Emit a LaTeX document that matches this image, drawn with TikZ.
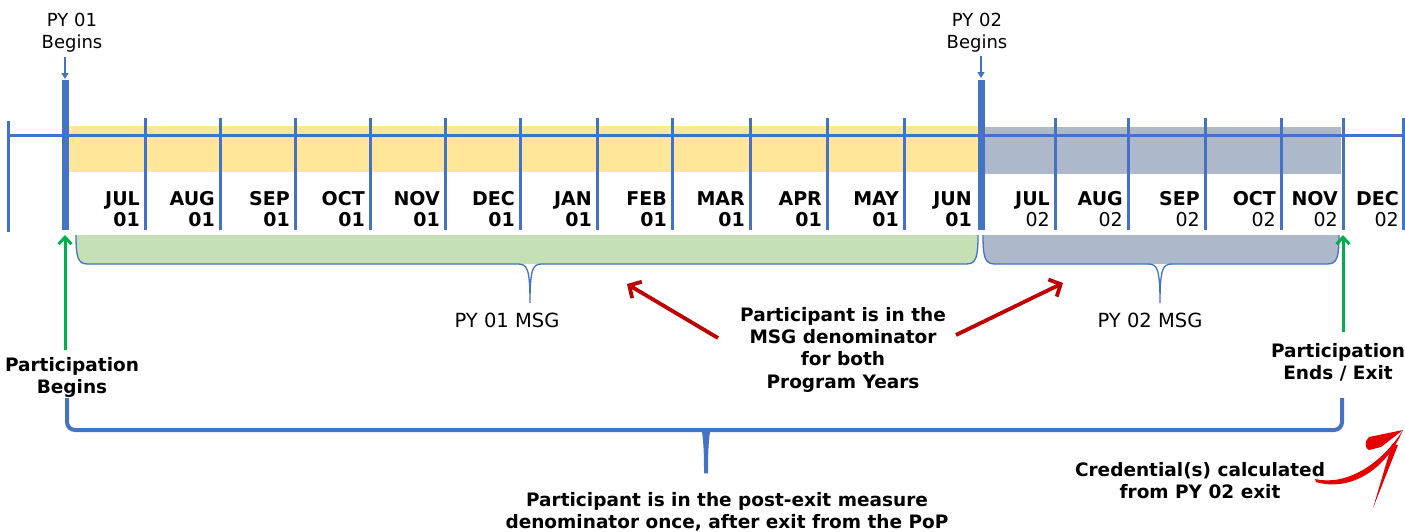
\documentclass[tikz,border=0pt]{standalone}
\usepackage{fontspec}
\setmainfont{DejaVu Sans}
\usetikzlibrary{arrows.meta}
\definecolor{bl}{HTML}{4472C4}
\definecolor{yel}{HTML}{FFE699}
\definecolor{gry}{HTML}{ADB9CA}
\definecolor{grn}{HTML}{C5E0B4}
\definecolor{garrow}{HTML}{00B050}
\definecolor{darkred}{HTML}{C00000}
\definecolor{brush}{HTML}{E60000}
\begin{document}
\begin{tikzpicture}[x=1pt,y=-1pt,
  tick/.style={draw=bl,line width=3pt},
  thickbar/.style={draw=bl,line width=7pt},
  mon/.style={font=\fontsize{19}{22}\selectfont\bfseries,inner sep=0pt,anchor=base east},
  yrr/.style={font=\fontsize{19}{22}\selectfont,inner sep=0pt,anchor=base east},
  lbl/.style={font=\fontsize{18.5}{22}\selectfont\bfseries,inner sep=0pt,anchor=base},
  reg/.style={font=\fontsize{18}{22}\selectfont,inner sep=0pt,anchor=base},
  msg/.style={font=\fontsize{19.5}{22}\selectfont,inner sep=0pt,anchor=base},
  bracestroke/.style={draw=bl,line width=1.3pt},
  garr/.style={draw=garrow,line width=3pt,-{Straight Barb[length=7pt,width=13pt]}},
  rarr/.style={draw=darkred,line width=3.8pt,-{Straight Barb[length=9pt,width=19pt]}},
  barr/.style={draw=bl,line width=1.3pt,-{Triangle[length=6pt,width=7pt]}},
]
\useasboundingbox (0,0) rectangle (1405,531);
% bands
\fill[yel] (69,126) rectangle (978,172);
\fill[gry] (984,127) rectangle (1341,174);
% main line
\draw[bl,line width=3pt] (8,135) -- (1405,135);
\draw[tick] (8,121) -- (8,232);
% ticks
\foreach \x in {145,220,295,370,445,520,597,672,750,827,904,1055,1128,1205,1281,1343,1403.5}
  \draw[tick] (\x,118) -- (\x,230);
\draw[thickbar] (65,80) -- (65,230);
\draw[thickbar] (981,80) -- (981,230);
% month labels PY01
\foreach \x/\m [count=\i] in {145/JUL,220/AUG,295/SEP,370/OCT,445/NOV,520/DEC,597/JAN,672/FEB,750/MAR,827/APR,904/MAY,977/JUN} {
  \node[mon] (ma\i) at (\x-5,205) {\m};
  \node[mon] (ya\i) at (\x-5,226) {01};
}
% month labels PY02
\foreach \x/\m [count=\i] in {1055/JUL,1128/AUG,1205/SEP,1281/OCT,1343/NOV,1404/DEC} {
  \node[mon] (mb\i) at (\x-5,205) {\m};
  \node[yrr] (yb\i) at (\x-5,226) {02};
}
% top labels
\node[reg] (py1a) at (72,26) {PY 01};
\node[reg] (py1b) at (72,48) {Begins};
\node[reg] (py2a) at (977,26) {PY 02};
\node[reg] (py2b) at (977,48) {Begins};
\coordinate (b1s) at (65,57); \coordinate (b1e) at (65,79);
\coordinate (b2s) at (981,56); \coordinate (b2e) at (981,78);
\draw[barr] (b1s) -- (b1e);
\draw[barr] (b2s) -- (b2e);
% green brace
\fill[grn] (76,235) .. controls (76,258) and (78,264) .. (88,264) -- (966,264) .. controls (976,264) and (978,258) .. (978,235) -- cycle;
\draw[bracestroke] (76,235) .. controls (76,258) and (78,264) .. (88,264) -- (518,264) .. controls (527,264) and (530,268) .. (530,303) .. controls (530,268) and (533,264) .. (542,264) -- (966,264) .. controls (976,264) and (978,258) .. (978,235);
% gray brace
\fill[gry] (983,235) .. controls (983,258) and (985,264) .. (995,264) -- (1327,264) .. controls (1337,264) and (1339,258) .. (1339,235) -- cycle;
\draw[bracestroke] (983,235) .. controls (983,258) and (985,264) .. (995,264) -- (1148,264) .. controls (1157,264) and (1160,268) .. (1160,303) .. controls (1160,268) and (1163,264) .. (1172,264) -- (1327,264) .. controls (1337,264) and (1339,258) .. (1339,235);
\node[msg] (msg1) at (507,327) {PY 01 MSG};
\node[msg] (msg2) at (1150,327) {PY 02 MSG};
% green arrows
\coordinate (g1s) at (65,350); \coordinate (g1e) at (65,235);
\coordinate (g2s) at (1343,332); \coordinate (g2e) at (1343,235);
\draw[garr] (g1s) -- (g1e);
\draw[garr] (g2s) -- (g2e);
\node[lbl] (pb1) at (72,371) {Participation};
\node[lbl] (pb2) at (72,393) {Begins};
\node[lbl] (pe1) at (1338,357) {Participation};
\node[lbl] (pe2) at (1338,379) {Ends / Exit};
% centre text and red arrows
\node[lbl] (c1) at (843,321) {Participant is in the};
\node[lbl] (c2) at (843,343) {MSG denominator};
\node[lbl] (c3) at (843,365) {for both};
\node[lbl] (c4) at (843,388) {Program Years};
\coordinate (r1s) at (718,338); \coordinate (r1e) at (627,284);
\coordinate (r2s) at (956,335); \coordinate (r2e) at (1063,283);
\draw[rarr] (r1s) -- (r1e);
\draw[rarr] (r2s) -- (r2e);
% bottom brace
\draw[draw=bl,line width=4pt,rounded corners=8pt] (67,398) -- (67,430) -- (696,430) .. controls (703,430) and (706,434) .. (706,478) .. controls (706,434) and (709,430) .. (716,430) -- (1342,430) -- (1342,398);
\node[lbl] (d1) at (727,506) {Participant is in the post-exit measure};
\node[lbl] (d2) at (727,528) {denominator once, after exit from the PoP};
% credential
\node[lbl] (cr1) at (1200,476) {Credential(s) calculated};
\node[lbl] (cr2) at (1200,498) {from PY 02 exit};
% hand-drawn swoosh arrow
\coordinate (sw0) at (1315,479); \coordinate (sw1) at (1403,430);
\fill[brush] (sw0) .. controls (1345,486) and (1380,466) .. (sw1)
  .. controls (1386,470) and (1350,492) .. (1316,482) -- cycle;
\fill[brush] (sw1) -- (1369,437) .. controls (1364,441) and (1365,449) .. (1369,450) -- (1381,447) -- cycle;
\fill[brush] (1392,444) -- (1398,445) -- (1373,508) -- cycle;
\end{tikzpicture}
\end{document}
